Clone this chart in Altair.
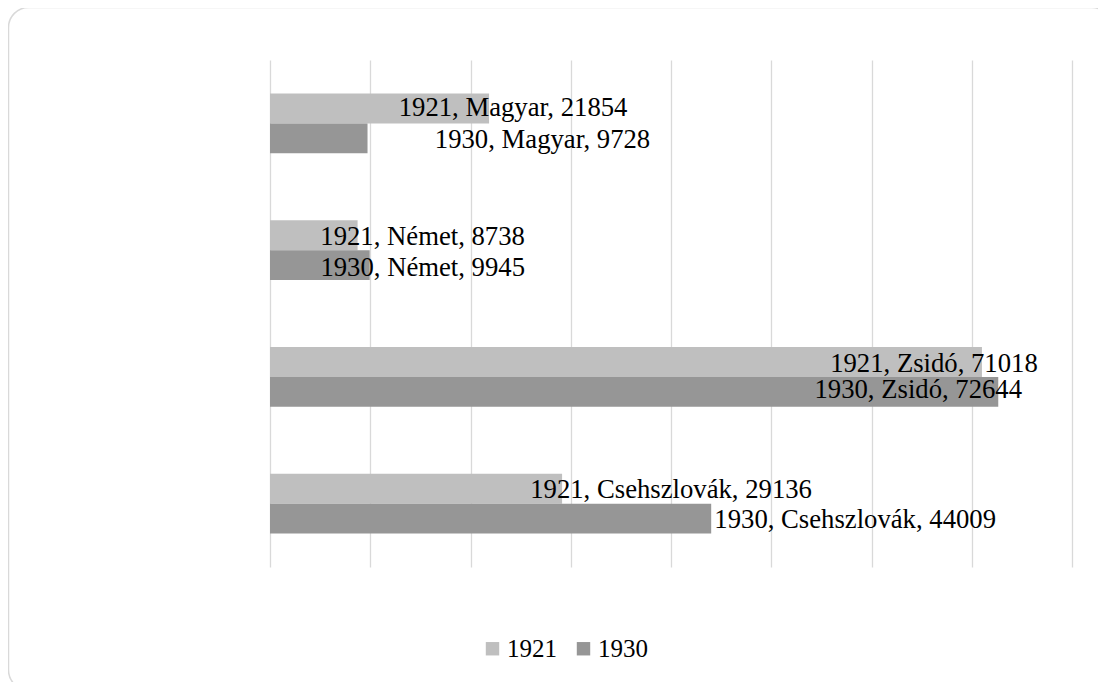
import altair as alt
import pandas as pd

categories = ["Magyar", "Német", "Zsidó", "Csehszlovák"]
years = ["1921", "1930"]
values_1921 = [21854, 8738, 71018, 29136]
values_1930 = [9728, 9945, 72644, 44009]
colors = ["#bfbfbf", "#969696"]

rows = []
for i, c in enumerate(categories):
    rows.append({"category": c, "year": "1921", "value": values_1921[i]})
    rows.append({"category": c, "year": "1930", "value": values_1930[i]})
df = pd.DataFrame(rows)
df["label"] = df["year"] + ", " + df["category"] + ", " + df["value"].astype(str)

# label offsets (px) from the bar end, same order as rows
label_dx = [24, 175, 65, 53, -48, -80, 109, 144]
label_dy = [0, 2, 2, 2.5, 2, -1.5, 1.5, 1]

W, H = 802, 507
FONT = "Liberation Serif"

x_enc = alt.X(
    "value:Q",
    scale=alt.Scale(domain=[0, 80000], nice=False),
    axis=alt.Axis(values=list(range(0, 80001, 10000)), grid=True, labels=False,
                  ticks=False, domain=False, title=None, gridColor="#d9d9d9", gridWidth=1.3),
)
y_enc = alt.Y("category:N", sort=categories,
              scale=alt.Scale(paddingInner=0.53, paddingOuter=0.265), axis=None)
yo_enc = alt.YOffset("year:N", sort=years, scale=alt.Scale(paddingInner=0, paddingOuter=0))

base = alt.Chart(df)

bars = base.mark_bar().encode(
    x=x_enc,
    y=y_enc,
    yOffset=yo_enc,
    color=alt.Color(
        "year:N",
        scale=alt.Scale(domain=years, range=colors),
        legend=alt.Legend(orient="none", legendX=210, legendY=576, direction="horizontal",
                          title=None, symbolType="square", symbolSize=180,
                          symbolStrokeWidth=0, labelFont=FONT, labelFontSize=25,
                          labelColor="black", columnPadding=14, labelOffset=2),
    ),
)

layers = []
for i, r in df.iterrows():
    t = base.transform_filter(
        (alt.datum.category == r["category"]) & (alt.datum.year == r["year"])
    ).mark_text(
        align="center", baseline="middle", font=FONT, fontSize=26.7, color="black",
        dx=label_dx[i], dy=label_dy[i]
    ).encode(
        x="value:Q", y=alt.Y("category:N", sort=categories), yOffset=alt.YOffset("year:N", sort=years), text="label:N"
    )
    layers.append(t)

border = alt.Chart(alt.Data(values=[{}])).mark_rect(
    filled=False, stroke="#d9d9d9", strokeWidth=1.5, cornerRadius=20
).encode(
    x=alt.value(-261.5), x2=alt.value(842), y=alt.value(-52.5), y2=alt.value(630)
)

chart = alt.layer(border, bars, *layers).properties(
    width=W, height=H,
    autosize=alt.AutoSizeParams(type="none"),
    padding={"left": 262, "top": 52, "right": 26, "bottom": 115},
    background="white",
).configure_view(strokeWidth=0)

chart.save("out.html", embed_options={"renderer": "svg", "actions": False})
